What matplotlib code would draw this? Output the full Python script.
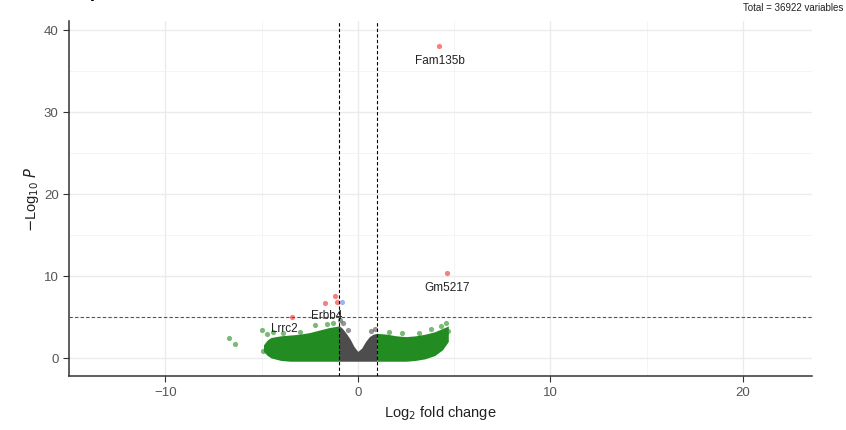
import numpy as np
import matplotlib
matplotlib.use("Agg")
import matplotlib.pyplot as plt

plt.rcParams['font.family'] = ['Liberation Sans', 'DejaVu Sans']

# dense cloud envelopes
green_left_x = [-4.9, -4.7, -4.5, -4.0, -3.5, -3.0, -2.5, -2.0, -1.5, -1.0]
green_left_top = [1.6, 2.2, 2.5, 2.7, 2.8, 2.9, 3.1, 3.4, 3.7, 3.9]
green_left_bot = [0.8, 0.3, 0.0, -0.3, -0.4, -0.4, -0.4, -0.4, -0.4, -0.4]

gray_x = [-1.0, -0.8, -0.6, -0.4, -0.2, 0.0, 0.2, 0.4, 0.6, 0.8, 1.0]
gray_top = [4.0, 3.6, 3.0, 2.3, 1.4, 0.8, 1.2, 2.0, 2.6, 2.9, 3.0]
gray_bot = [-0.4] * 11

green_right_x = [1.0, 1.5, 2.0, 2.5, 3.0, 3.5, 4.0, 4.4, 4.7]
green_right_top = [3.0, 2.9, 2.7, 2.6, 2.7, 2.9, 3.2, 3.6, 3.9]
green_right_bot = [-0.4, -0.4, -0.4, -0.4, -0.3, -0.1, 0.3, 1.0, 2.0]

# scattered points
green_x = [-6.7, -6.4, -5.0, -4.9, -4.7, -4.4, -2.2, -3.9, -3.0, -1.6,
           -1.3, 1.6, 2.3, 3.2, 3.8, 4.6, 4.7, 4.5, 4.3]
green_y = [2.4, 1.7, 3.4, 0.9, 2.9, 3.2, 4.0, 3.1, 3.2, 4.1,
           4.3, 3.2, 3.0, 3.1, 3.5, 4.3, 3.3, 2.4, 3.9]
gray_pt_x = [-0.9, -0.75, -0.5, 0.7, 0.9]
gray_pt_y = [4.6, 4.3, 3.4, 3.3, 3.5]
red_x = [4.24, 4.65, -1.7, -1.2, -1.1, -3.4]
red_y = [38.0, 10.4, 6.7, 7.6, 6.8, 5.0]
blue_x = [-0.8]
blue_y = [6.8]

labels = ['Fam135b', 'Gm5217', 'Erbb4', 'Lrrc2']
label_x = [4.24, 4.65, -1.6, -3.8]
label_y = [36.3, 8.7, 5.3, 3.6]

fig = plt.figure(figsize=(8.46, 4.31), dpi=100)
ax = fig.add_axes([0.0816, 0.1253, 0.8784, 0.8237])

ax.set_xlim(-14.8, 23.6)
ax.set_ylim(-2.2, 41.1)
ax.set_xticks([-10, 0, 10, 20])
ax.set_xticks([-15, -5, 5, 15], minor=True)
ax.set_yticks([0, 10, 20, 30, 40])
ax.set_yticks([5, 15, 25, 35], minor=True)
ax.grid(which='major', color='#ebebeb', lw=1.0)
ax.grid(which='minor', color='#f3f3f3', lw=0.6)
ax.set_axisbelow(True)

for s in ['top', 'right']:
    ax.spines[s].set_visible(False)
for s in ['left', 'bottom']:
    ax.spines[s].set_color('#333333')
    ax.spines[s].set_linewidth(1.1)
ax.tick_params(which='major', length=4, color='#333333', labelsize=9.5, labelcolor='#555555')
ax.tick_params(which='minor', length=0)

green = '#228B22'
ax.fill_between(green_left_x, green_left_bot, green_left_top, color=green, lw=0, zorder=2)
ax.fill_between(green_right_x, green_right_bot, green_right_top, color=green, lw=0, zorder=2)
ax.scatter(green_x, green_y, s=14, color=green, alpha=0.6, lw=0, zorder=3)
ax.fill_between(gray_x, gray_bot, gray_top, color='#4d4d4d', lw=0, zorder=3)
ax.scatter(gray_pt_x, gray_pt_y, s=14, color='#4d4d4d', alpha=0.6, lw=0, zorder=3)
ax.scatter(red_x, red_y, s=14, color='#ee0000', alpha=0.5, lw=0, zorder=4)
ax.scatter(blue_x, blue_y, s=14, color='#4169e1', alpha=0.5, lw=0, zorder=4)

ax.axvline(-1, color='black', ls=(0, (3, 2)), lw=0.8, zorder=5)
ax.axvline(1, color='black', ls=(0, (3, 2)), lw=0.8, zorder=5)
ax.axhline(5, color='#555555', ls=(0, (3, 2)), lw=0.8, zorder=5)

for t, x, y in zip(labels, label_x, label_y):
    ax.text(x, y, t, fontsize=8.5, color='#222222', ha='center', va='center', zorder=6)

ax.set_xlabel('Log$_2$ fold change', fontsize=10.5, color='#222222', labelpad=3)
ax.set_ylabel('$-$Log$_{10}$ $\\mathit{P}$', fontsize=10.5, color='#222222', labelpad=2)

fig.text(0.9965, 0.982, 'Total = 36922 variables', fontsize=7, ha='right', va='center', color='#222222')
fig.text(0.012, 1.0 + 3 / 431, 'Volcano plot', fontsize=14, fontweight='bold', ha='left', va='baseline')

fig.savefig('out.png', dpi=100)
